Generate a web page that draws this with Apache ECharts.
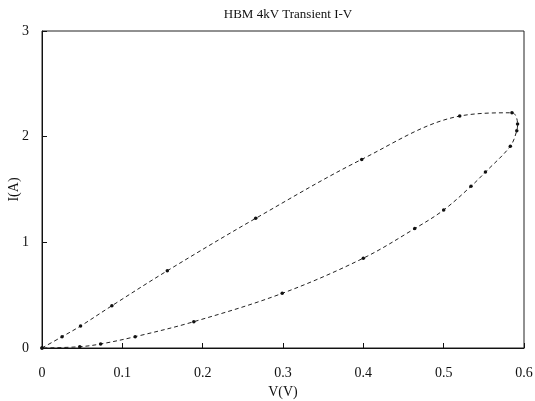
<!DOCTYPE html>
<html>
<head>
<meta charset="utf-8">
<script src="https://cdn.jsdelivr.net/npm/echarts@6/dist/echarts.min.js"></script>
<style>html,body{margin:0;padding:0;background:#fff}#c{width:535px;height:401px}</style>
</head>
<body>
<div id="c"></div>
<script>
// Rising branch (origin -> peak)
var vUp = [0, 0.025, 0.048, 0.087, 0.156, 0.266, 0.398, 0.520, 0.585, 0.592];
var iUp = [0, 0.107, 0.208, 0.40, 0.731, 1.227, 1.785, 2.195, 2.226, 2.12];
// Falling branch (peak -> origin)
var vDown = [0.591, 0.583, 0.552, 0.534, 0.500, 0.464, 0.400, 0.299, 0.189, 0.116, 0.073, 0.047, 0];
var iDown = [2.056, 1.91, 1.665, 1.53, 1.306, 1.13, 0.85, 0.517, 0.249, 0.107, 0.038, 0.012, 0];
var xTicks = [0, 0.1, 0.2, 0.3, 0.4, 0.5, 0.6];
var yTicks = [0, 1, 2, 3];

var loop = [];
for (var k = 0; k < vUp.length; k++) loop.push([vUp[k], iUp[k]]);
for (var m = 0; m < vDown.length; m++) loop.push([vDown[m], iDown[m]]);

var font = 'Liberation Serif';
var chart = echarts.init(document.getElementById('c'), null, {renderer: 'canvas'});
chart.setOption({
  animation: false,
  backgroundColor: '#fff',
  title: {
    text: 'HBM 4kV Transient I-V',
    left: 283, top: 3, textAlign: 'center',
    textStyle: {fontFamily: font, fontSize: 13, fontWeight: 'normal', color: '#111'}
  },
  grid: {
    left: 42, right: 11, top: 31, bottom: 53,
    containLabel: false, outerBoundsMode: 'none',
    show: true, borderColor: '#222', borderWidth: 1, backgroundColor: 'transparent'
  },
  xAxis: {
    type: 'value', min: xTicks[0], max: xTicks[xTicks.length - 1], interval: 0.1,
    name: 'V(V)', nameLocation: 'middle', nameGap: 37,
    nameTextStyle: {fontFamily: font, fontSize: 14, color: '#111'},
    axisLine: {show: true, lineStyle: {color: '#111', width: 1}},
    axisTick: {show: true, inside: true, length: 5, lineStyle: {color: '#111'}},
    axisLabel: {fontFamily: font, fontSize: 14, color: '#111', margin: 18,
      formatter: function (v) { return String(+v.toFixed(1)); }},
    splitLine: {show: false}
  },
  yAxis: {
    type: 'value', min: yTicks[0], max: yTicks[yTicks.length - 1], interval: 1,
    name: 'I(A)', nameLocation: 'middle', nameGap: 21, nameRotate: 90,
    nameMoveOverlap: false,
    nameTextStyle: {fontFamily: font, fontSize: 14, color: '#111'},
    axisLine: {show: true, lineStyle: {color: '#111', width: 1}},
    axisTick: {show: true, inside: true, length: 5, lineStyle: {color: '#111'}},
    axisLabel: {fontFamily: font, fontSize: 14, color: '#111', margin: 13},
    splitLine: {show: false}
  },
  series: [{
    type: 'line',
    data: loop,
    smooth: 0.35,
    symbol: 'circle',
    symbolSize: 3.5,
    itemStyle: {color: '#111'},
    lineStyle: {color: '#222', width: 1, type: [4, 3]}
  }]
});
</script>
</body>
</html>
